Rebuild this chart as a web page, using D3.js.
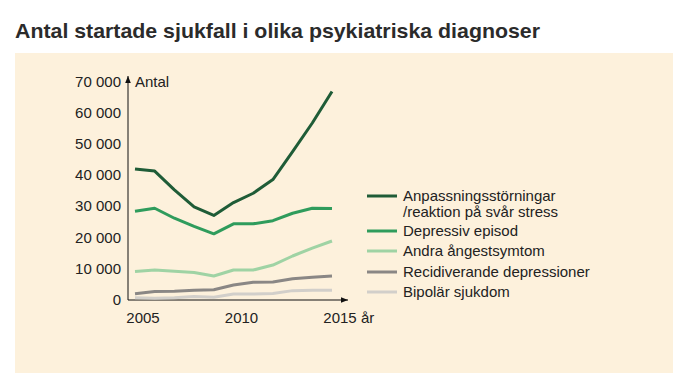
<!DOCTYPE html>
<meta charset="utf-8">
<style>
    body { margin: 0; background: #fff; }
    text { font-family: "Liberation Sans", Arial, sans-serif; fill: #222; }
    .line { fill: none; stroke-width: 3; stroke-linejoin: round; }
</style>
<svg width="692" height="389"></svg>
<script src="https://d3js.org/d3.v7.min.js"></script>
<script>
    var years = [2005, 2006, 2007, 2008, 2009, 2010, 2011, 2012, 2013, 2014, 2015];
    var anpassning = [42000, 41300, 35300, 29800, 27100, 31200, 34200, 38600, 47500, 56700, 66800];
    var depressiv = [28400, 29400, 26200, 23600, 21200, 24400, 24400, 25400, 27800, 29400, 29300];
    var angest = [9100, 9600, 9200, 8800, 7700, 9600, 9600, 11200, 14100, 16600, 18900];
    var recidiv = [2000, 2700, 2800, 3100, 3300, 4800, 5700, 5800, 6800, 7300, 7700];
    var bipolar = [750, 600, 750, 1100, 850, 1900, 1900, 2100, 3000, 3100, 3100];
    var seriesNames = ['Anpassningsstörningar\n/reaktion på svår stress', 'Depressiv episod',
        'Andra ångestsymtom', 'Recidiverande depressioner', 'Bipolär sjukdom'];
    var colors = ['#1f5c37', '#2f9c5c', '#9fd3a4', '#8a8785', '#d2cfca'];
    var yTicks = [0, 10000, 20000, 30000, 40000, 50000, 60000, 70000];
    var xTicks = [2005, 2010, 2015];

    var series = [anpassning, depressiv, angest, recidiv, bipolar];

    var svg = d3.select('svg');

    svg.append('text')
        .attr('x', 15).attr('y', 38)
        .attr('font-size', 21).attr('font-weight', 'bold')
        .attr('textLength', 525).attr('lengthAdjust', 'spacingAndGlyphs')
        .style('fill', '#2b2b2b')
        .text('Antal startade sjukfall i olika psykiatriska diagnoser');

    svg.append('rect')
        .attr('x', 15).attr('y', 53).attr('width', 658).attr('height', 320)
        .attr('fill', '#fdf1dc');

    var x = d3.scaleLinear().domain([2005, 2015]).range([135, 332]),
        y = d3.scaleLinear().domain([0, 70000]).range([300, 81.5]);

    var defs = svg.append('defs');
    defs.append('marker').attr('id', 'arr')
        .attr('viewBox', '0 0 10 10').attr('refX', 10).attr('refY', 5)
        .attr('markerWidth', 7).attr('markerHeight', 7).attr('orient', 'auto')
        .append('path').attr('d', 'M0,1 L10,5 L0,9 Z').attr('fill', '#111');

    // axes
    svg.append('line').attr('x1', 128).attr('y1', 300).attr('x2', 128).attr('y2', 76)
        .attr('stroke', '#111').attr('marker-end', 'url(#arr)');
    svg.append('line').attr('x1', 128).attr('y1', 300).attr('x2', 348).attr('y2', 300)
        .attr('stroke', '#111').attr('marker-end', 'url(#arr)');

    var fmt = function(d) { return d3.format(',')(d).replace(/,/g, ' '); };

    svg.selectAll('.ytick').data(yTicks).enter().append('text')
        .attr('class', 'ytick')
        .attr('x', 121).attr('y', d => y(d) + 5)
        .attr('text-anchor', 'end').attr('font-size', 15)
        .text(fmt);

    svg.append('text').attr('x', 135).attr('y', 87).attr('font-size', 15).text('Antal');

    svg.selectAll('.xtick').data(xTicks).enter().append('text')
        .attr('class', 'xtick')
        .attr('x', d => x(d) + 8).attr('y', 323)
        .attr('text-anchor', 'middle').attr('font-size', 15)
        .text(d => d);
    svg.append('text').attr('x', 361).attr('y', 323).attr('font-size', 15).text('år');

    var line = d3.line()
        .x((d, i) => x(years[i]))
        .y(d => y(d));

    // draw lightest first so dark lines sit on top
    for (var k = series.length - 1; k >= 0; k--) {
        svg.append('path').attr('class', 'line')
            .attr('d', line(series[k]))
            .attr('stroke', colors[k]);
    }

    // legend
    var legY = [196, 231, 251, 272, 292];
    seriesNames.forEach(function(name, i) {
        svg.append('line')
            .attr('x1', 367).attr('x2', 397).attr('y1', legY[i]).attr('y2', legY[i])
            .attr('stroke', colors[i]).attr('stroke-width', 3);
        var t = svg.append('text').attr('x', 403).attr('y', legY[i] + 5).attr('font-size', 15);
        name.split('\n').forEach(function(part, j) {
            t.append('tspan').attr('x', 403).attr('dy', j ? 16 : 0).text(part);
        });
    });
</script>
